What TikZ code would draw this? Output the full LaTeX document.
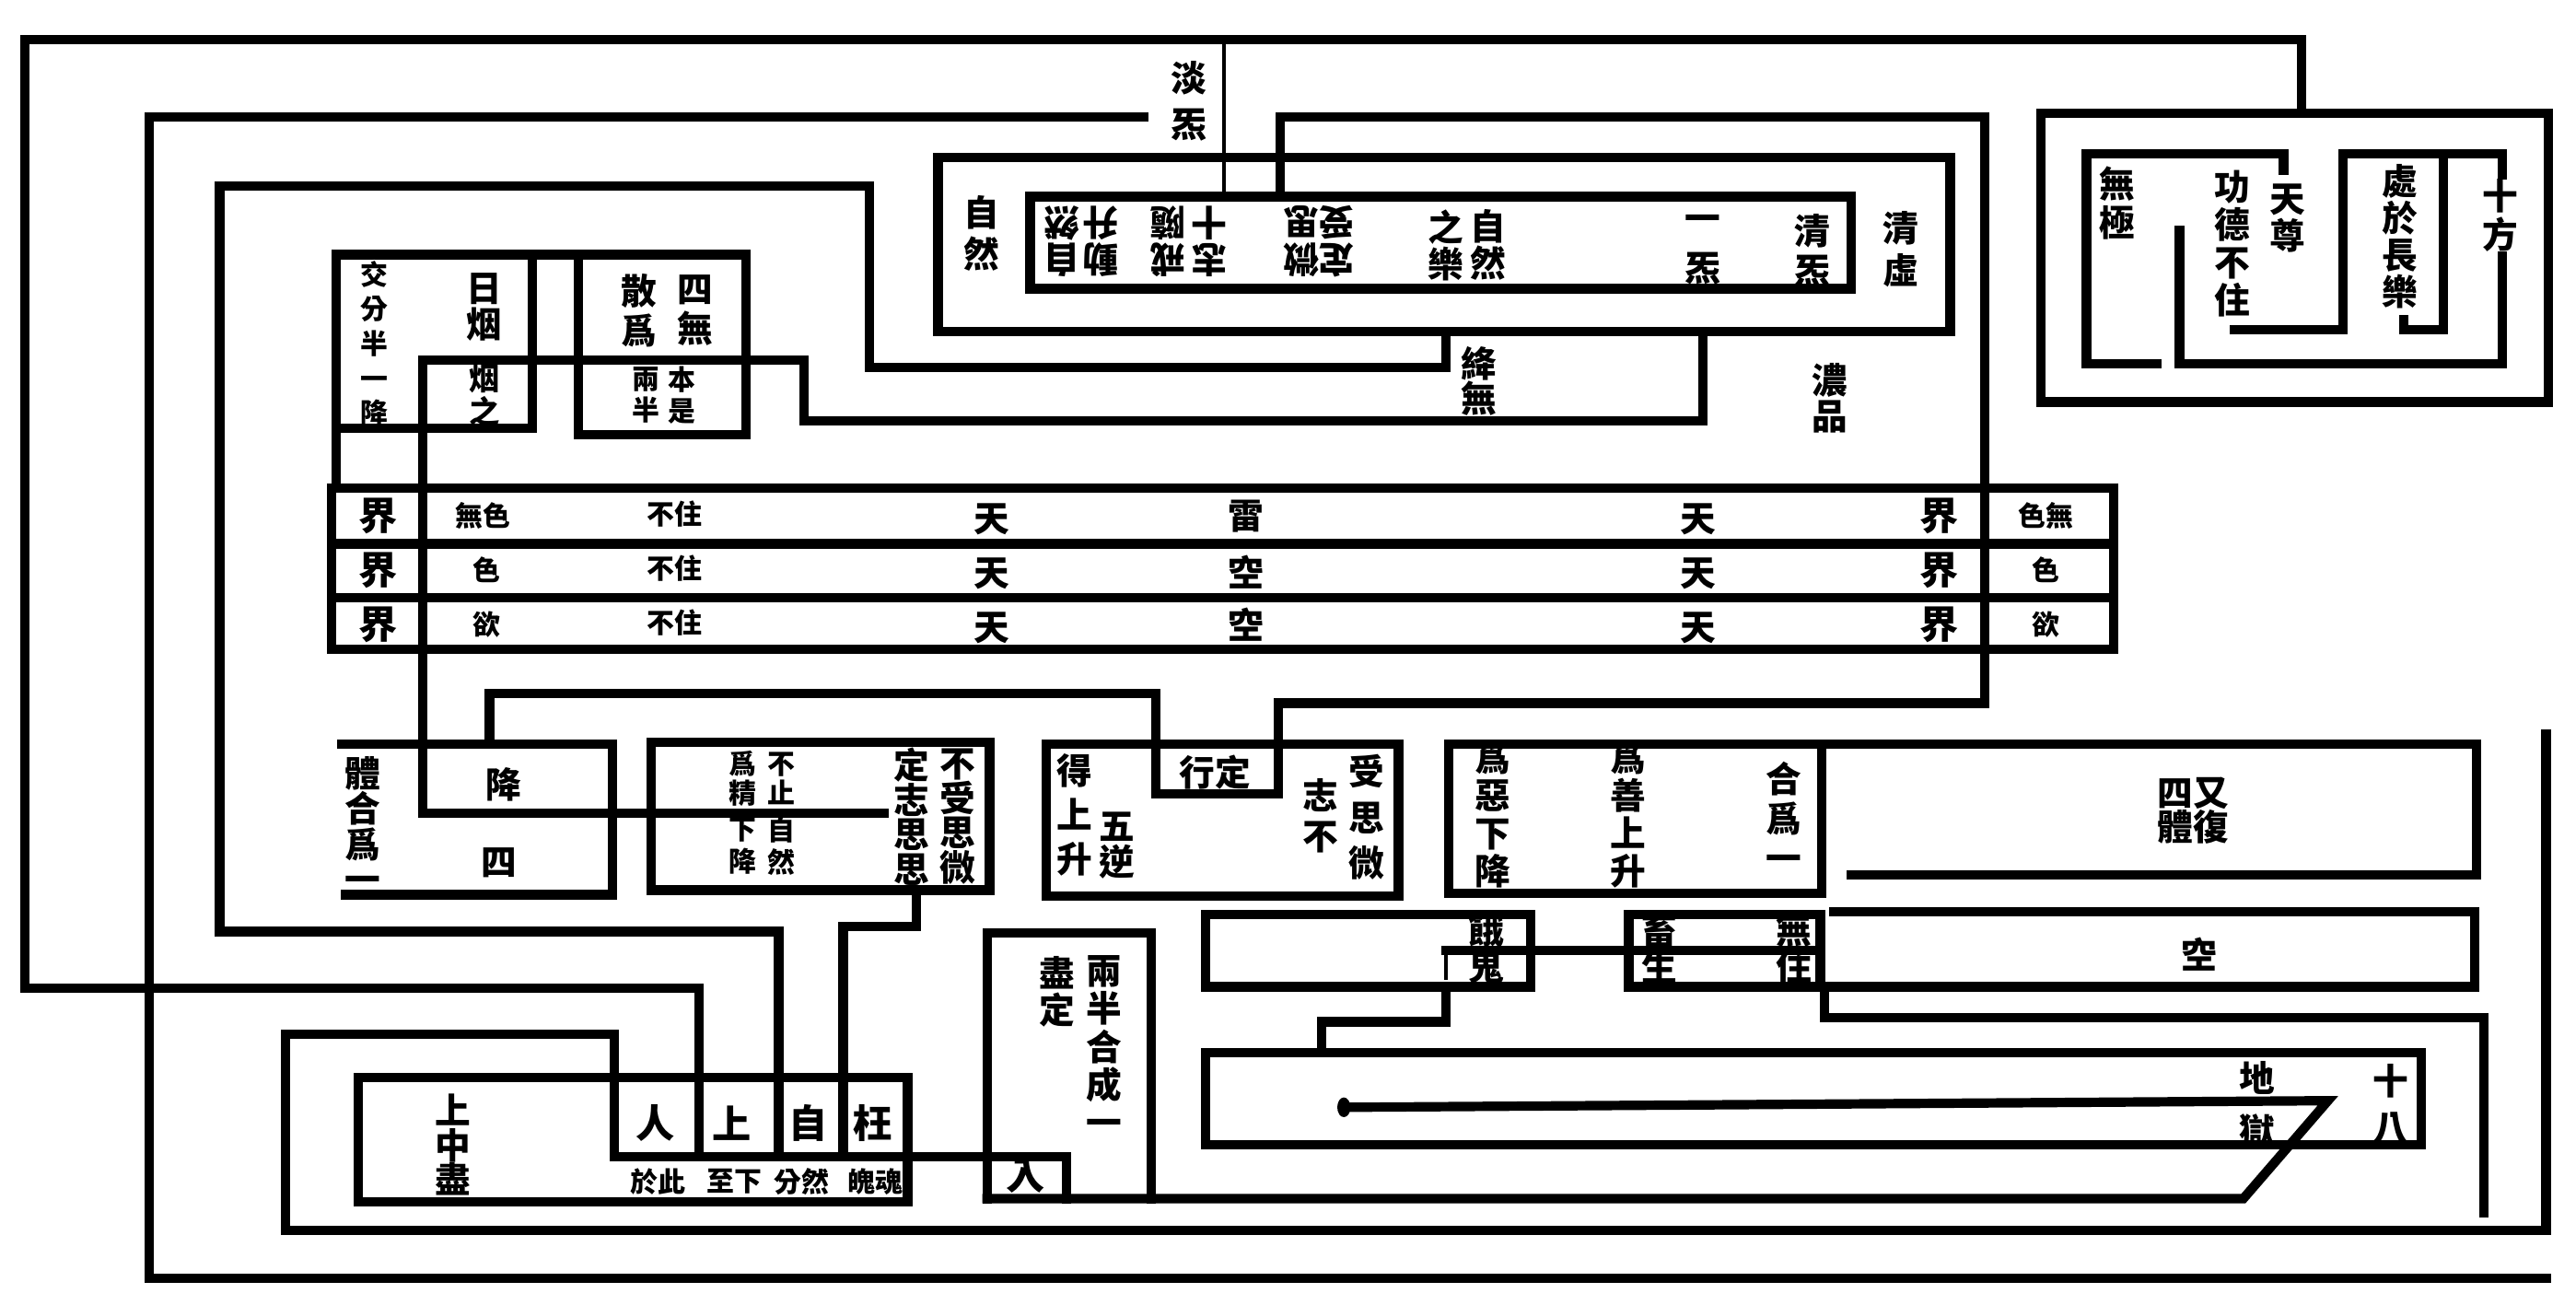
\documentclass[tikz,border=0pt]{standalone}
\usepackage{fontspec}
\setmainfont{Noto Sans CJK TC}
\tikzset{
  wall/.style={line width=2.9pt, line cap=rect},
  fine/.style={line width=1.3pt, line cap=rect},
  zi/.style={inner sep=0pt, align=center, font=\bfseries\fontsize{11}{#1}\selectfont},
  zi/.default=11.7,
  da/.style={inner sep=0pt, align=center, font=\bfseries\fontsize{12}{14}\selectfont},
  xiao/.style={inner sep=0pt, align=center, font=\bfseries\fontsize{8.5}{#1}\selectfont},
  xiao/.default=9,
  dao/.style={rotate=180}
}

\begin{document}
\begin{tikzpicture}[x=0.017838cm, y=-0.017838cm]
\useasboundingbox[fill=white] (0,0) rectangle (1568,794);

% long runs round the whole plan
\draw[wall] (1400.7,69) -- (1400.7,24) -- (15,24) -- (15,601.6) -- (425.6,601.6) -- (425.6,704.3);
\draw[fine] (745,24) -- (745,119.7);
\draw[wall] (696,71) -- (91,71) -- (91,778) -- (1550,778);
\draw[wall] (880,201.6) -- (880,223.5) -- (529,223.5) -- (529,113.4) -- (133.7,113.4) -- (133.7,567) -- (474,567) -- (474,704.3);
\draw[wall] (1036.7,201.6) -- (1036.7,256) -- (489.5,256) -- (489.5,219) -- (257.5,219) -- (257.5,495) -- (538,495);
\draw[wall] (779.3,119.7) -- (779.3,71) -- (1208.3,71) -- (1208.3,428) -- (778,428) -- (778,483) -- (703.4,483) -- (703.4,422.3) -- (298,422.3) -- (298,453);

% top boxes
\draw[wall] (571,96) rectangle (1187,201.6);
\draw[wall] (627,119.7) rectangle (1127,175.7);
\draw[wall] (204.5,297) -- (204.5,155) -- (454,155) -- (454,264.4) -- (352,264.4) -- (352,155);
\draw[wall] (324,155) -- (324,260.7) -- (204.5,260.7);

% three heavens
\draw[wall] (202,297) rectangle (1286.4,395);
\draw[wall] (202,331) -- (1286.4,331);
\draw[wall] (202,364) -- (1286.4,364);

% middle boxes
\draw[wall] (207.8,453) -- (373,453) -- (373,544.6) -- (210,544.6);
\draw[wall] (396.5,452) rectangle (602.4,541.8);
\draw[wall] (558,541.8) -- (558,564) -- (513.2,564) -- (513.2,704.3);
\draw[wall] (636.8,453) rectangle (851.3,545.5);
\draw[wall] (882,453) rectangle (1109,543.7);
\draw[wall] (1109,453) -- (1507.4,453) -- (1507.4,532.5) -- (1127,532.5);

% lower paths
\draw[wall] (733.8,556.8) rectangle (931.7,600.7);
\draw[wall] (991.4,556.8) rectangle (1108,600.7);
\draw[wall] (1116,555) -- (1506.5,555) -- (1506.5,600.7) -- (1108,600.7);
\draw[wall] (880.2,578.3) -- (1108,578.3);
\draw[fine] (880.2,578.3) -- (880.2,595);
\draw[wall] (880.2,600.7) -- (880.2,622) -- (804.3,622) -- (804.3,640.8);
\draw[wall] (1110.7,600.7) -- (1110.7,619.4) -- (1512,619.4) -- (1512,738);
\draw[wall] (733.8,640.8) rectangle (1474,696.9);
\draw[wall] (600.8,729.6) -- (1365.5,729.6) -- (1417,670) -- (822,674);
\fill (818,674) ellipse (4 and 6);
\draw[wall] (373.8,704.3) -- (373.8,629.6) -- (173.6,629.6) -- (173.6,749) -- (1549.8,749) -- (1549.8,447);
\draw[wall] (373.8,704.3) -- (649,704.3) -- (649,729.6);
\draw[wall] (218.2,655.8) rectangle (552.5,731.4);
\draw[wall] (600.8,729.6) -- (600.8,568) -- (700.9,568) -- (700.9,729.6);

% top right
\draw[wall] (1242.2,69) rectangle (1551,244.7);
\draw[wall] (1312.8,221.3) -- (1270,221.3) -- (1270,93.4) -- (1390,93.4) -- (1390,103.6);
\draw[wall] (1326.6,140) -- (1326.6,221.3) -- (1523.2,221.3) -- (1523.2,93.4) -- (1426,93.4) -- (1426,200.8) -- (1360.2,200.8);
\draw[wall] (1487.4,96.2) -- (1487.4,200.8) -- (1463,200.8) -- (1463,194.3);

% texts, top
\node[zi=14.1] (danqi) at (723.5,61.7) {淡\\炁};
\node[zi=12.7] (ziranA) at (597.5,142) {自\\然};
\node[zi=13.2] (qingxu) at (1157,151.6) {清\\虛};
\node[zi=12.2] (qingqi) at (1103,152.5) {清\\炁};
\node[zi=15.2] (yiqi) at (1036.7,152) {一\\炁};
\node[zi=11.5] (ziranB) at (906,149) {自\\然};
\node[zi=11.5] (zhile) at (880,149.5) {之\\樂};
\node[zi=11.5, dao] (cA) at (813.6,147) {定\\受};
\node[zi=11.5, dao] (cB) at (792.2,147) {微\\思};
\node[zi=11.5, dao] (cC) at (736.4,147) {志\\十};
\node[zi=11.5, dao] (cD) at (710.7,147) {戒\\隨};
\node[zi=11.5, dao] (cE) at (670,147) {動\\升};
\node[zi=11.5, dao] (cF) at (646.3,147) {自\\然};
\node[zi=10.8] (jiangwu) at (900,232) {絳\\無};
\node[zi=11.2] (nongpin) at (1114,242.4) {濃\\品};
\node[zi=10.9] (riyan) at (295,187) {日\\烟};
\node[font=\bfseries\fontsize{9.5}{9}\selectfont, align=center, inner sep=0pt] (yanzhi) at (295,240.5) {烟\\之};
\node[xiao=10.7] (jiaofen) at (228,209) {交\\分\\半\\一\\降};
\node[zi=12.2] (sanwei) at (389,189) {散\\爲};
\node[zi=12.2] (siwu) at (423,189) {四\\無};
\node[xiao=9.6] (liangban) at (393,240.5) {兩\\半};
\node[xiao=9.6] (benshi) at (415,240.5) {本\\是};

% three heavens text
\foreach \y/\n in {314/1,347/2,380/3}{
  \node[da] (jieL\n) at (230,\y) {界};
  \node[da] (jieR\n) at (1180.4,\y) {界};
  \node[xiao] (buzhu\n) at (410.5,\y-1) {不住};
  \node[zi] (tianA\n) at (603.5,\y+2) {天};
  \node[zi] (tianB\n) at (1033.6,\y+2) {天};
}
\node[xiao] (wuse) at (294,314) {無色};
\node[xiao] (se) at (296,347) {色};
\node[xiao] (yu) at (296,380) {欲};
\node[zi] (lei) at (758.4,314) {雷};
\node[zi] (kongA) at (758.4,348) {空};
\node[zi] (kongB) at (758.4,380) {空};
\node[xiao] (sewuR) at (1245.5,314) {色無};
\node[xiao] (seR) at (1245.5,347) {色};
\node[xiao] (yuR) at (1245.5,380) {欲};

% middle texts
\node[zi=10.9] (tihe) at (220.6,502) {體\\合\\爲\\一};
\node[zi] (jiang) at (306.4,477.4) {降};
\node[zi] (si) at (304,525) {四};
\node[xiao=9.1] (weijing) at (452.3,474) {爲\\精};
\node[xiao=9.1] (buzhi) at (475.9,474) {不\\止};
\node[xiao=10] (xiajiang) at (452.3,515) {下\\降};
\node[xiao=10] (ziranC) at (475.9,515) {自\\然};
\node[zi=10.7] (bushou) at (583,497) {不\\受\\思\\微};
\node[zi=10.7] (dingzhi) at (555,497) {定\\志\\思\\思};
\node[zi=13.7] (deshang) at (654,496) {得\\上\\升};
\node[zi=9.8] (wuni) at (680,514.5) {五\\逆};
\node[zi] (xingding) at (739.7,469.9) {行定};
\node[zi=14] (shousi) at (832,497.5) {受\\思\\微};
\node[zi=12.7] (zhibu) at (804,496.5) {志\\不};
\node[zi=11.7] (weie) at (908.6,496) {爲\\惡\\下\\降};
\node[zi=11.7] (weishan) at (991,496) {爲\\善\\上\\升};
\node[zi=12.2] (hewei) at (1085.6,497) {合\\爲\\一};
\node[zi=10.5] (youfu) at (1335,493.7) {四又\\體復};

% lower texts
\node[zi=11.4] (egui) at (904.6,577.3) {餓\\鬼};
\node[zi=11.4] (chusheng) at (1010.3,577.3) {畜\\生};
\node[zi=11.4] (wuzhu) at (1091.7,577.3) {無\\住};
\node[zi] (kongC) at (1338.4,581) {空};
\node[zi=16.2] (diyu) at (1373.7,672.6) {地\\獄};
\node[zi=14.7] (shiba) at (1455,672.5) {十\\八};
\node[zi=10.6] (shangzhong) at (275.5,696.9) {上\\中\\盡};
\node[da] (ren) at (398.8,683.8) {人};
\node[da] (shang) at (445.3,683.8) {上};
\node[da] (zi) at (491.7,683.8) {自};
\node[da] (wang) at (531,683.8) {枉};
\node[xiao] (yuci) at (400.6,719.3) {於此};
\node[xiao] (zhixia) at (447,719.3) {至下};
\node[xiao] (fenran) at (488,719.3) {分然};
\node[xiao] (pohun) at (532.9,719.3) {魄魂};
\node[zi=11.7] (liangbanhe) at (672.3,636.6) {兩\\半\\合\\成\\一};
\node[zi=11.4] (jinding) at (643.7,603.5) {盡\\定};
\node[da] (renB) at (624,715.5) {入};

% top right texts
\node[zi=11.9] (wuji) at (1288.5,123.7) {無\\極};
\node[zi=11.7] (gongde) at (1359,148.5) {功\\德\\不\\住};
\node[zi=11.4] (tianzun) at (1392.6,132.6) {天\\尊};
\node[zi=11.4] (chuyu) at (1460.8,143.7) {處\\於\\長\\樂};
\node[zi=11.9, fill=white] (shifang) at (1522,131.2) {十\\方};
\end{tikzpicture}
\end{document}
